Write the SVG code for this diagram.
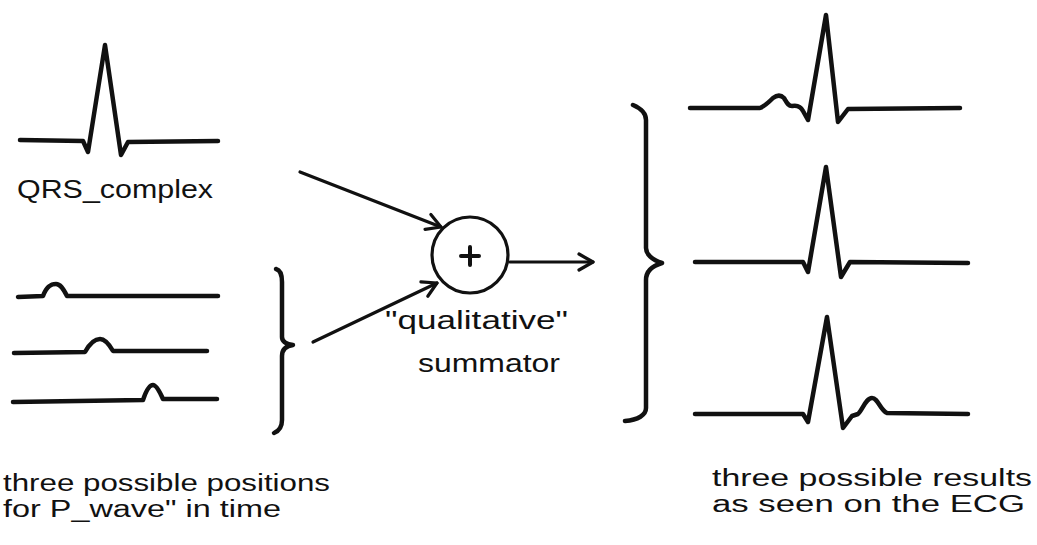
<svg xmlns="http://www.w3.org/2000/svg" width="1037" height="545" viewBox="0 0 1037 545">
<defs>
<style>
.w{fill:none;stroke:#111;stroke-width:4.5;stroke-linecap:round;stroke-linejoin:round}
.c{fill:none;stroke:#111;stroke-width:3.2;stroke-linecap:round;stroke-linejoin:round}
.t{font-family:"Liberation Sans","DejaVu Sans",sans-serif;fill:#111;font-size:26px}
.s{font-family:"Liberation Sans","DejaVu Sans",sans-serif;fill:#111;font-size:23px}
</style>
<marker id="ah" viewBox="0 0 20 20" refX="18" refY="10" markerWidth="20" markerHeight="20" markerUnits="userSpaceOnUse" orient="auto">
<polyline points="4,2 18,10 4,18" fill="none" stroke="#111" stroke-width="3.2" stroke-linecap="round" stroke-linejoin="round"/>
</marker>
</defs>
<rect width="1037" height="545" fill="#fff"/>

<g id="qrs">
<path class="w" d="M20,140 L83,141 L88,152 L105,45 L121,155 L128,142 L218,141"/>
<text class="t" x="17" y="198" textLength="196" lengthAdjust="spacingAndGlyphs">QRS_complex</text>
</g>

<g id="pwaves">
<path class="w" d="M18,297 L43,296 C47,285 52,284 56,284 C60,284 63,288 67,296 L218,296"/>
<path class="w" d="M14,353 L85,352 C90,343 95,339 100,339 C105,339 109,344 113,351 L207,351"/>
<path class="w" d="M13,402 L143,400 C147,388 150,385 153,385 C156,385 159,390 163,399 L217,399"/>
<path class="w" d="M276,269 C280,270 282,274 282,282 L282,337 C282,342 286,344 293,345 C286,346 282,350 282,356 L282,420 C282,427 279,431 274,433"/>
</g>

<g id="summator">
<circle class="c" cx="470" cy="255" r="38"/>
<path d="M470,247 V265 M461,256 H479" fill="none" stroke="#111" stroke-width="4" stroke-linecap="round"/>
<text class="t" x="385" y="329" textLength="183" lengthAdjust="spacingAndGlyphs">"qualitative"</text>
<text class="t" x="418" y="372" textLength="142" lengthAdjust="spacingAndGlyphs">summator</text>
</g>

<g id="results">
<path class="w" d="M690,108 L760,108 C765,106 768,103 773,98 C777,95 781,95 784,98 C787,103 788,106 792,106 C797,105 801,107 803,111 L808,120 L826,15 L838,122 L848,109 L960,108"/>
<path class="w" d="M695,262 L803,262 L808,272 L826,167 L841,277 L850,262 L968,263"/>
<path class="w" d="M695,414 L803,414 L808,422 L827,317 L843,428 L852,416 L858,414 C863,409 866,398 872,398 C878,398 880,410 887,413 L968,414"/>
<path class="w" d="M633,105 C640,108 646,112 646,120 L646,248 C646,254 652,260 662,263 C652,266 646,272 646,280 L646,408 C646,415 638,420 625,421"/>
</g>

<g id="connectors">
<line class="c" x1="300" y1="172" x2="441" y2="227" marker-end="url(#ah)"/>
<line class="c" x1="313" y1="342" x2="437" y2="283" marker-end="url(#ah)"/>
<line class="c" x1="510" y1="262" x2="593" y2="262" marker-end="url(#ah)"/>
</g>

<g id="labels">
<text class="s" x="3" y="491" textLength="327" lengthAdjust="spacingAndGlyphs">three possible positions</text>
<text class="s" x="3" y="517" textLength="278" lengthAdjust="spacingAndGlyphs">for P_wave" in time</text>
<text class="s" x="712" y="486" textLength="320" lengthAdjust="spacingAndGlyphs">three possible results</text>
<text class="s" x="712" y="512" textLength="313" lengthAdjust="spacingAndGlyphs">as seen on the ECG</text>
</g>
</svg>
